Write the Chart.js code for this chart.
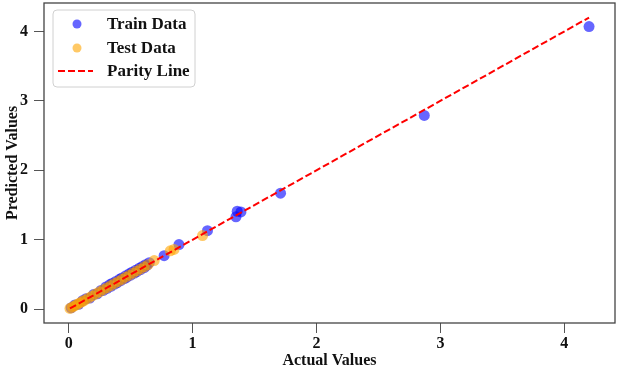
<!DOCTYPE html>
<html lang="en">
<head>
  <meta charset="UTF-8">
  <title>Parity Plot</title>
  <style>
    html, body { margin: 0; padding: 0; background: #fff; }
    .chart-box { width: 617px; height: 370px; position: relative; }
  </style>
</head>
<body>
  <div class="chart-box">
    <canvas id="parityChart" width="617" height="370"></canvas>
  </div>

  <script src="https://cdn.jsdelivr.net/npm/chart.js"></script>
  <script>
    // values
    const trainActual = [0.02, 0.05, 0.08, 0.11, 0.14, 0.17, 0.20, 0.23, 0.26, 0.28, 0.30, 0.31, 0.33, 0.34,
                         0.35, 0.37, 0.38, 0.39, 0.41, 0.42, 0.43, 0.45, 0.46, 0.47, 0.49, 0.50, 0.51, 0.53,
                         0.54, 0.55, 0.57, 0.58, 0.59, 0.61, 0.62, 0.63, 0.65,
                         0.77, 0.89, 1.12, 1.35, 1.36, 1.39, 1.71, 2.87, 4.20];
    const trainPred   = [0.02, 0.06, 0.07, 0.12, 0.15, 0.16, 0.21, 0.22, 0.27, 0.27, 0.32, 0.30, 0.35, 0.33,
                         0.37, 0.36, 0.40, 0.38, 0.43, 0.41, 0.45, 0.44, 0.48, 0.46, 0.51, 0.49, 0.53, 0.52,
                         0.56, 0.54, 0.59, 0.57, 0.61, 0.60, 0.64, 0.63, 0.67,
                         0.77, 0.93, 1.13, 1.33, 1.41, 1.40, 1.67, 2.79, 4.07];
    const testActual  = [0.01, 0.03, 0.05, 0.07, 0.09, 0.11, 0.13, 0.16, 0.19, 0.22, 0.25, 0.28, 0.31, 0.34,
                         0.37, 0.40, 0.43, 0.46, 0.49, 0.52, 0.55, 0.58, 0.61, 0.64, 0.69, 0.82, 0.85, 1.08];
    const testPred    = [0.01, 0.03, 0.05, 0.07, 0.09, 0.11, 0.13, 0.16, 0.19, 0.22, 0.25, 0.28, 0.31, 0.34,
                         0.37, 0.40, 0.43, 0.46, 0.49, 0.52, 0.55, 0.58, 0.61, 0.64, 0.70, 0.84, 0.86, 1.06];
    const axisTicks = [0, 1, 2, 3, 4];

    const allVals = trainActual.concat(trainPred, testActual, testPred);
    const lo = Math.min(...allVals), hi = Math.max(...allVals);
    const pad = (hi - lo) * 0.05;

    const toPoints = (xs, ys) => xs.map((x, i) => ({ x: x, y: ys[i] }));
    const serif = '"Liberation Serif", "Times New Roman", serif';

    // no extra room for overflowing tick labels
    const noPad = s => { s.paddingTop = 0; s.paddingBottom = 0; s.paddingLeft = 0; s.paddingRight = 0; };

    // plot frame + legend drawn inside chart area, like matplotlib
    const framePlugin = {
      id: 'frame',
      afterDatasetsDraw(chart) {
        const { ctx, chartArea: a } = chart;
        ctx.save();
        ctx.strokeStyle = '#444';
        ctx.lineWidth = 1.3;
        ctx.strokeRect(a.left, a.top, a.right - a.left, a.bottom - a.top);

        // legend box
        const bx = a.left + 9, by = a.top + 7, bw = 142, bh = 77;
        ctx.fillStyle = 'rgba(255,255,255,0.85)';
        ctx.strokeStyle = '#d0d0d0';
        ctx.lineWidth = 1;
        ctx.beginPath();
        ctx.roundRect(bx, by, bw, bh, 4);
        ctx.fill();
        ctx.stroke();

        const ds = chart.data.datasets;
        ctx.font = 'bold 17px ' + serif;
        ctx.textBaseline = 'middle';
        ctx.textAlign = 'left';
        const rows = [by + 14, by + 38, by + 61];
        [0, 1, 2].forEach(i => {
          const y = rows[i];
          const d = ds[i];
          if (d.showLine) {
            ctx.strokeStyle = d.borderColor;
            ctx.lineWidth = 2;
            ctx.setLineDash([7, 3]);
            ctx.beginPath();
            ctx.moveTo(bx + 5, y);
            ctx.lineTo(bx + 40, y);
            ctx.stroke();
            ctx.setLineDash([]);
          } else {
            ctx.fillStyle = d.backgroundColor;
            ctx.beginPath();
            ctx.arc(bx + 24, y, 4.5, 0, Math.PI * 2);
            ctx.fill();
          }
          ctx.fillStyle = '#111';
          ctx.fillText(d.label, bx + 54, y + 1);
        });
        ctx.restore();
      }
    };

    const config = {
      type: 'scatter',
      data: {
        datasets: [
          {
            label: 'Train Data',
            data: toPoints(trainActual, trainPred),
            backgroundColor: 'rgba(0,0,255,0.6)',
            borderWidth: 0,
            pointRadius: 5.5,
            order: 2
          },
          {
            label: 'Test Data',
            data: toPoints(testActual, testPred),
            backgroundColor: 'rgba(255,165,0,0.6)',
            borderWidth: 0,
            pointRadius: 5.5,
            order: 1
          },
          {
            label: 'Parity Line',
            data: [{ x: lo, y: lo }, { x: hi, y: hi }],
            showLine: true,
            borderColor: '#ff0000',
            backgroundColor: '#ff0000',
            borderWidth: 2,
            borderDash: [7, 3],
            pointRadius: 0,
            order: 0
          }
        ]
      },
      options: {
        responsive: false,
        animation: false,
        layout: { autoPadding: false, padding: { top: 3, right: 2, left: 0, bottom: 0 } },
        plugins: {
          legend: { display: false },
          tooltip: { enabled: false }
        },
        scales: {
          x: {
            type: 'linear',
            min: lo - pad,
            max: hi + pad,
            afterBuildTicks: s => { s.ticks = axisTicks.map(v => ({ value: v })); },
            afterFit: s => { s.height = 47; noPad(s); },
            grid: { drawOnChartArea: false, drawTicks: true, tickLength: 10, color: '#555' },
            border: { display: false },
            ticks: { color: '#111', padding: 1, font: { family: serif, size: 16, weight: 'bold' } },
            title: {
              display: true, text: 'Actual Values', color: '#111',
              padding: { top: -3, bottom: 0 },
              font: { family: serif, size: 16, weight: 'bold' }
            }
          },
          y: {
            type: 'linear',
            min: lo - pad,
            max: hi + pad,
            afterBuildTicks: s => { s.ticks = axisTicks.map(v => ({ value: v })); },
            afterFit: s => { s.width = 44; noPad(s); },
            grid: { drawOnChartArea: false, drawTicks: true, tickLength: 10, color: '#555' },
            border: { display: false },
            ticks: { color: '#111', padding: 6, font: { family: serif, size: 16, weight: 'bold' } },
            title: {
              display: true, text: 'Predicted Values', color: '#111',
              padding: { top: 3, bottom: 0 },
              font: { family: serif, size: 16, weight: 'bold' }
            }
          }
        }
      },
      plugins: [framePlugin]
    };

    window.addEventListener('load', () => {
      const ctx = document.getElementById('parityChart').getContext('2d');
      new Chart(ctx, config);
    });
  </script>
</body>
</html>
